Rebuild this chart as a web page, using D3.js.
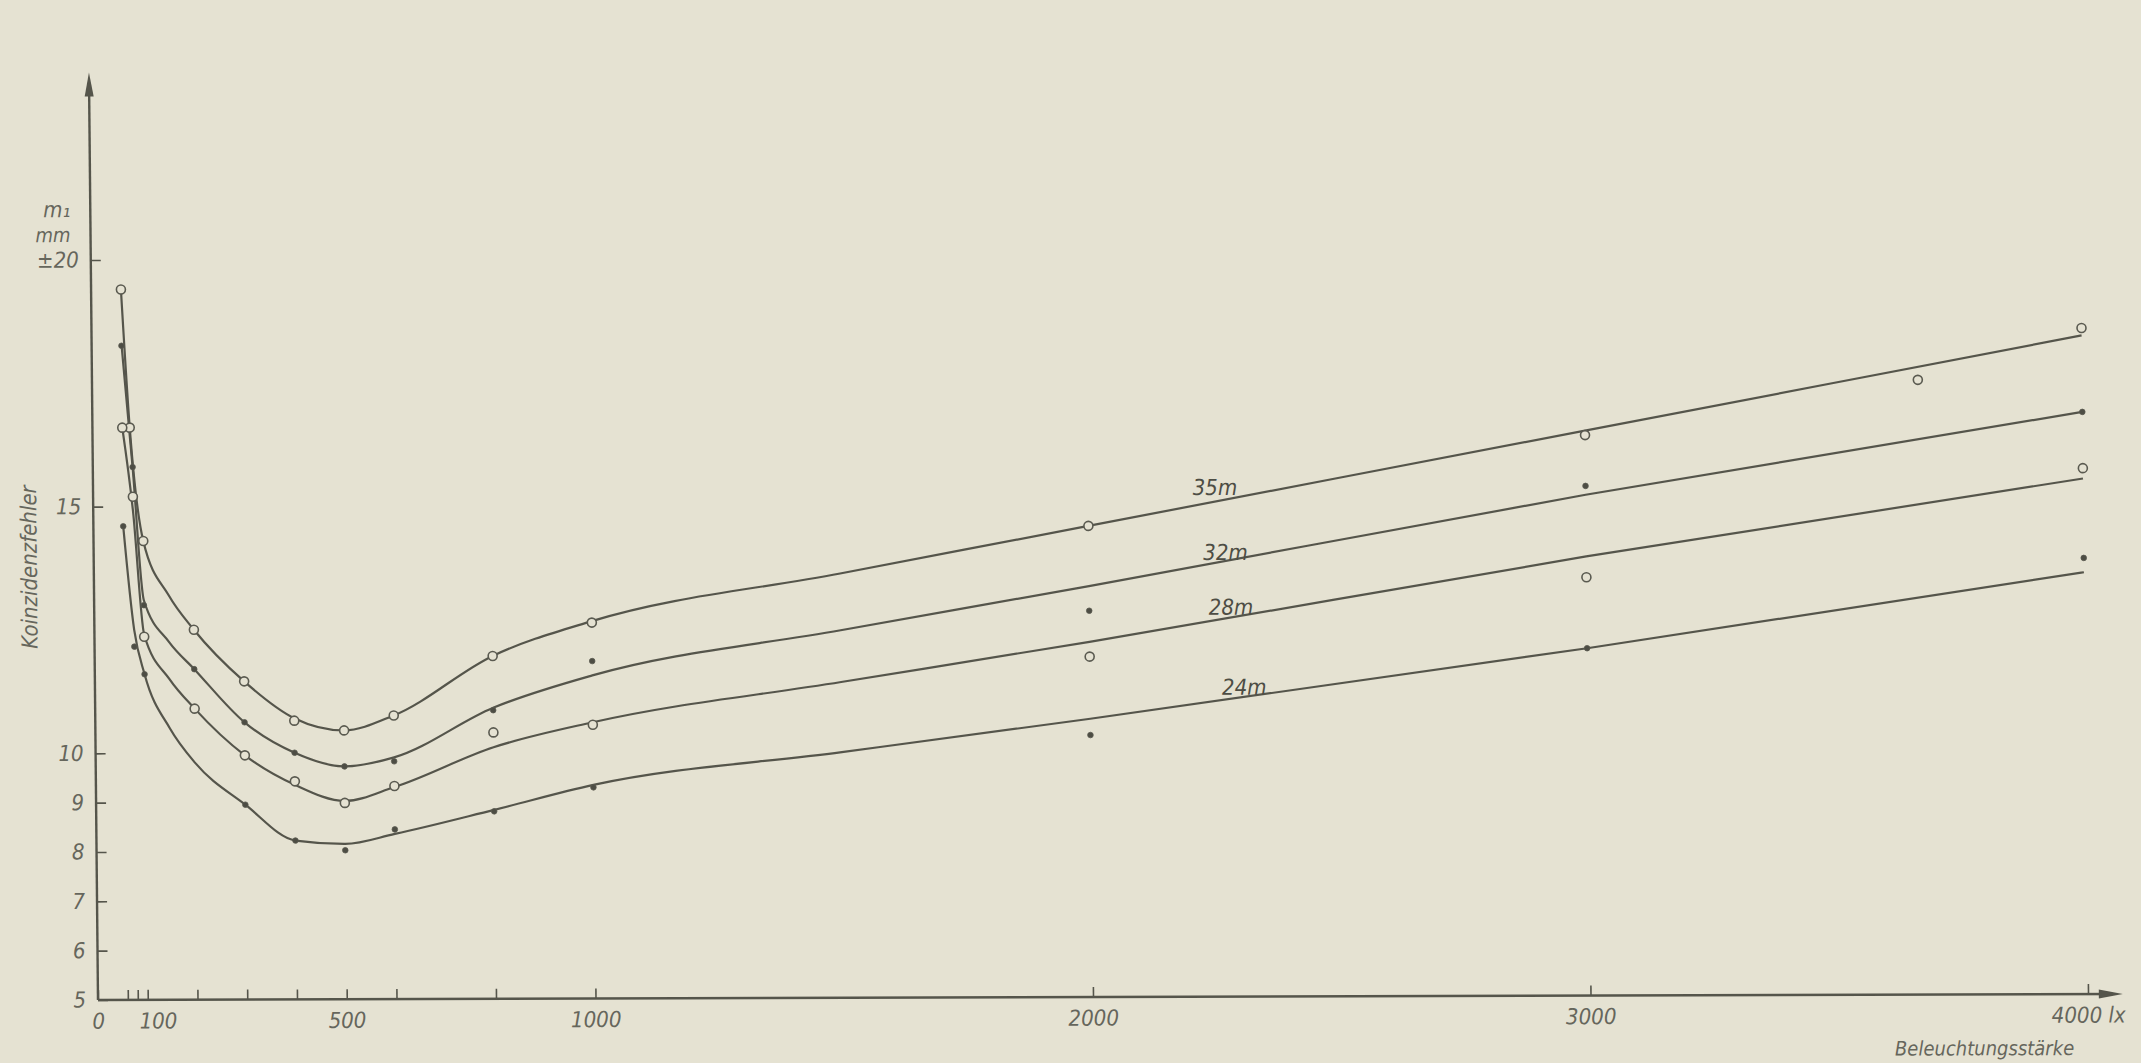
<!DOCTYPE html>
<html>
<head>
<meta charset="utf-8">
<script src="https://cdn.jsdelivr.net/npm/d3@7"></script>
<style>
  body { margin: 0; background: #e5e2d2; }
  svg { display: block; }
  text { font-family: "DejaVu Sans", "Liberation Sans", sans-serif; font-stretch: condensed; fill: #66665c; }
  .axis line { stroke: #55554b; stroke-width: 1.6; }
  .axis text { font-size: 22px; font-style: italic; }
</style>
</head>
<body>
<script>
// Koinzidenzfehler m1 [mm] against Beleuchtungsstaerke [lx], one curve per distance

const distances = ["35m", "32m", "28m", "24m"];
const markerType = ["open", "dot", "open", "dot"];

// measured points [lx, mm]
const meas35 = [[60, 19.4], [75, 16.6], [100, 14.3], [200, 12.5], [300, 11.45], [400, 10.65], [500, 10.45], [600, 10.75], [800, 11.95], [1000, 12.62], [2000, 14.55], [3000, 16.36], [3670, 17.46], [4000, 18.5]];
const meas32 = [[60, 18.26], [80, 15.8], [100, 13.0], [200, 11.7], [300, 10.62], [400, 10.0], [500, 9.72], [600, 9.82], [800, 10.85], [1000, 11.84], [2000, 12.83], [3000, 15.33], [4000, 16.8]];
const meas28 = [[60, 16.6], [80, 15.2], [100, 12.36], [200, 10.9], [300, 9.95], [400, 9.42], [500, 8.98], [600, 9.32], [800, 10.4], [1000, 10.55], [2000, 11.9], [3000, 13.48], [4000, 15.66]];
const meas24 = [[60, 14.6], [80, 12.16], [100, 11.6], [300, 8.95], [400, 8.22], [500, 8.02], [600, 8.44], [800, 8.8], [1000, 9.28], [2000, 10.31], [3000, 12.04], [4000, 13.84]];

// hand-drawn smoothing curves [lx, mm]
const curve35 = [[60, 19.4], [75, 16.6], [100, 14.3], [150, 13.2], [200, 12.5], [300, 11.45], [400, 10.7], [500, 10.45], [600, 10.75], [800, 11.95], [1000, 12.65], [1500, 13.6], [2000, 14.55], [3000, 16.45], [4000, 18.35]];
const curve32 = [[60, 18.3], [80, 15.8], [100, 13.1], [150, 12.25], [200, 11.7], [300, 10.62], [400, 10.0], [500, 9.72], [600, 9.9], [800, 10.9], [1000, 11.55], [1500, 12.45], [2000, 13.33], [3000, 15.15], [4000, 16.8]];
const curve28 = [[60, 16.6], [80, 14.9], [100, 12.4], [150, 11.5], [200, 10.9], [300, 9.95], [400, 9.35], [500, 9.02], [600, 9.3], [800, 10.1], [1000, 10.6], [1500, 11.4], [2000, 12.2], [3000, 13.9], [4000, 15.45]];
const curve24 = [[60, 14.6], [80, 12.5], [100, 11.6], [150, 10.5], [200, 9.8], [300, 8.95], [400, 8.22], [500, 8.15], [600, 8.35], [800, 8.83], [1000, 9.33], [1500, 9.98], [2000, 10.64], [3000, 12.04], [4000, 13.55]];

// where the distance labels sit [lx, mm]
const labelPos = [[2255, 15.17], [2275, 13.85], [2285, 12.74], [2310, 11.12]];

// axes
const xTicks = [0, 60, 80, 100, 200, 300, 400, 500, 600, 800, 1000, 2000, 3000, 4000];
const xLabelValues = [0, 100, 500, 1000, 2000, 3000, 4000];
const xLabelText = ["0", "100", "500", "1000", "2000", "3000", "4000 lx"];
const yTicks = [5, 6, 7, 8, 9, 10, 15, 20];
const yLabelText = ["5", "6", "7", "8", "9", "10", "15", "±20"];

const measured = [meas35, meas32, meas28, meas24];
const curves = [curve35, curve32, curve28, curve24];

const W = 2141, H = 1063;
const ink = "#55554b", paper = "#e5e2d2";

const svg = d3.select("body").append("svg")
    .attr("width", W)
    .attr("height", H);

svg.append("rect").attr("width", W).attr("height", H).attr("fill", paper);

const x = d3.scaleLinear().domain([0, 4000]).range([0, 1990]);
const y = d3.scaleLinear().domain([5, 20]).range([0, -740]);

// origin of the plot, with the slight skew of the scanned sheet
const g = svg.append("g")
    .attr("transform", "matrix(1,-0.003,0.00976,1,98,1000)");

// x axis
const xAxis = g.append("g")
    .attr("class", "axis")
    .call(d3.axisBottom(x)
        .tickValues(xTicks)
        .tickSizeInner(-10)
        .tickSizeOuter(0)
        .tickPadding(13)
        .tickFormat(d => {
            const i = xLabelValues.indexOf(d);
            return i < 0 ? "" : xLabelText[i];
        }));
xAxis.select(".domain").remove();
xAxis.selectAll(".tick text")
    .filter(d => d == 100)
    .attr("dx", 10);     // the 100 label sits a bit right of its tick

const xEnd = x(4070);
g.append("line")
    .attr("x1", x(0)).attr("y1", 0)
    .attr("x2", xEnd - 10).attr("y2", 0)
    .attr("stroke", ink).attr("stroke-width", 2.4);
g.append("path")
    .attr("d", `M${xEnd},0L${xEnd - 24},-4.5L${xEnd - 24},4.5Z`)
    .attr("fill", ink);

// y axis
const yAxis = g.append("g")
    .attr("class", "axis")
    .call(d3.axisLeft(y)
        .tickValues(yTicks)
        .tickSizeInner(-10)
        .tickSizeOuter(0)
        .tickPadding(12)
        .tickFormat((d, i) => yLabelText[i]));
yAxis.select(".domain").remove();

const yEnd = y(23.8);
g.append("line")
    .attr("x1", 0).attr("y1", y(5))
    .attr("x2", 0).attr("y2", yEnd + 10)
    .attr("stroke", ink).attr("stroke-width", 2.4);
g.append("path")
    .attr("d", `M0,${yEnd}L-4.5,${yEnd + 24}L4.5,${yEnd + 24}Z`)
    .attr("fill", ink);

// unit above the y labels
g.append("text")
    .attr("x", -20)
    .attr("y", y(20) - 18)
    .attr("text-anchor", "end")
    .style("font-size", "20px")
    .style("font-style", "italic")
    .text("mm");
g.append("text")
    .attr("x", -20)
    .attr("y", y(20) - 43)
    .attr("text-anchor", "end")
    .style("font-size", "22px")
    .style("font-style", "italic")
    .text("m₁");

// axis titles
g.append("text")
    .attr("transform", `translate(-57,${y(13.78)}) rotate(-90)`)
    .attr("text-anchor", "middle")
    .style("font-size", "22px")
    .style("font-style", "italic")
    .text("Koinzidenzfehler");

g.append("text")
    .attr("x", x(3791))
    .attr("y", 61)
    .attr("text-anchor", "middle")
    .style("font-size", "20px")
    .style("font-style", "italic")
    .text("Beleuchtungsstärke");

// curves
const line = d3.line()
    .x(d => x(d[0]))
    .y(d => y(d[1]))
    .curve(d3.curveMonotoneX);

g.selectAll(".curve")
    .data(curves)
    .enter()
    .append("path")
    .attr("class", "curve")
    .attr("d", line)
    .attr("fill", "none")
    .attr("stroke", ink)
    .attr("stroke-width", 2.2);

// measured points
measured.forEach((pts, k) => {
    const open = markerType[k] == "open";
    g.selectAll(".pt" + k)
        .data(pts)
        .enter()
        .append("circle")
        .attr("class", "pt" + k)
        .attr("cx", d => x(d[0]))
        .attr("cy", d => y(d[1]))
        .attr("r", open ? 4.5 : 2.8)
        .attr("fill", open ? paper : "#4d4d44")
        .attr("stroke", "#5a5a50")
        .attr("stroke-width", open ? 1.6 : 0.8);
});

// distance labels
g.selectAll(".dist")
    .data(distances)
    .enter()
    .append("text")
    .attr("class", "dist")
    .attr("x", (d, i) => x(labelPos[i][0]))
    .attr("y", (d, i) => y(labelPos[i][1]))
    .attr("text-anchor", "middle")
    .style("font-size", "22px")
    .style("font-style", "italic")
    .style("fill", "#4d4d44")
    .text(d => d);
</script>
</body>
</html>
